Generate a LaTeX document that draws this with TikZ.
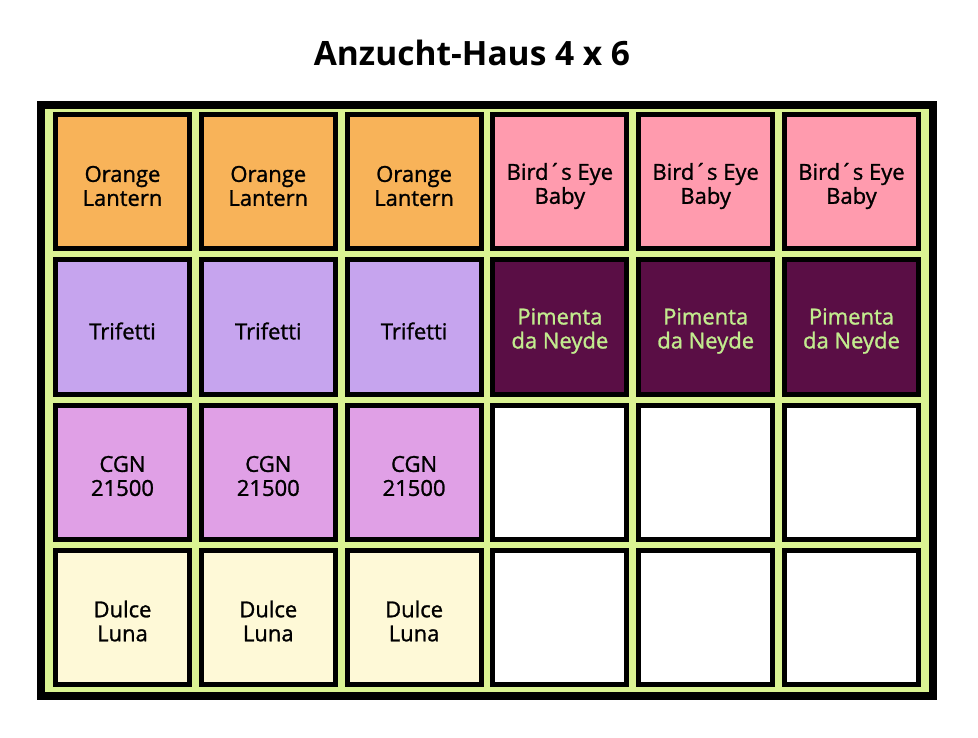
\documentclass[tikz,border=0pt]{standalone}
\usepackage{fontspec}
\setmainfont{Open Sans}
\newfontfamily\potfont[BoldFont={Open Sans}, BoldFeatures={FakeBold=1.2}]{Open Sans}
\usepackage{tikz}
\usetikzlibrary{positioning}
\definecolor{frameGreen}{HTML}{DAF392}
\definecolor{orangeCell}{HTML}{F8B359}
\definecolor{pinkCell}{HTML}{FF9BAE}
\definecolor{lilacCell}{HTML}{C6A4EE}
\definecolor{plumCell}{HTML}{5A0E45}
\definecolor{plumText}{HTML}{C2EB8E}
\definecolor{violetCell}{HTML}{E0A0E6}
\definecolor{creamCell}{HTML}{FEF9D7}
\tikzset{
    pot/.style={draw=black, line width=5pt, minimum size=134pt, inner sep=0pt},
    potname/.style={align=center, inner sep=0pt, yshift=-4pt,
        font=\potfont\bfseries\fontsize{22}{24}\selectfont},
    haus/.style={draw=black, line width=8pt, fill=frameGreen}
}

\begin{document}
\begin{tikzpicture}[x=1pt,y=-1pt]
\useasboundingbox (0,0) rectangle (978,738);

\node[font=\bfseries\fontsize{33.5}{40}\selectfont] (title) at (472,53) {Anzucht-Haus 4 x 6};

\draw[haus] (41,105) rectangle (933,696);

\foreach \c in {0,1,2}{
    \node[pot, fill=orangeCell, label={[potname]center:Orange\\Lantern}] (p0\c) at (122.5+145.8*\c,182) {};
    \node[pot, fill=lilacCell, label={[potname]center:Trifetti}] (p1\c) at (122.5+145.8*\c,327) {};
    \node[pot, fill=violetCell, label={[potname]center:CGN\\21500}] (p2\c) at (122.5+145.8*\c,472) {};
    \node[pot, fill=creamCell, label={[potname]center:Dulce\\Luna}] (p3\c) at (122.5+145.8*\c,617) {};
}
\foreach \c in {3,4,5}{
    \node[pot, fill=pinkCell, label={[potname]center:Bird´s Eye\\Baby}] (p0\c) at (122.5+145.8*\c,182) {};
    \node[pot, fill=plumCell, label={[potname, text=plumText]center:Pimenta\\da Neyde}] (p1\c) at (122.5+145.8*\c,327) {};
    \node[pot, fill=white] (p2\c) at (122.5+145.8*\c,472) {};
    \node[pot, fill=white] (p3\c) at (122.5+145.8*\c,617) {};
}
\end{tikzpicture}
\end{document}
